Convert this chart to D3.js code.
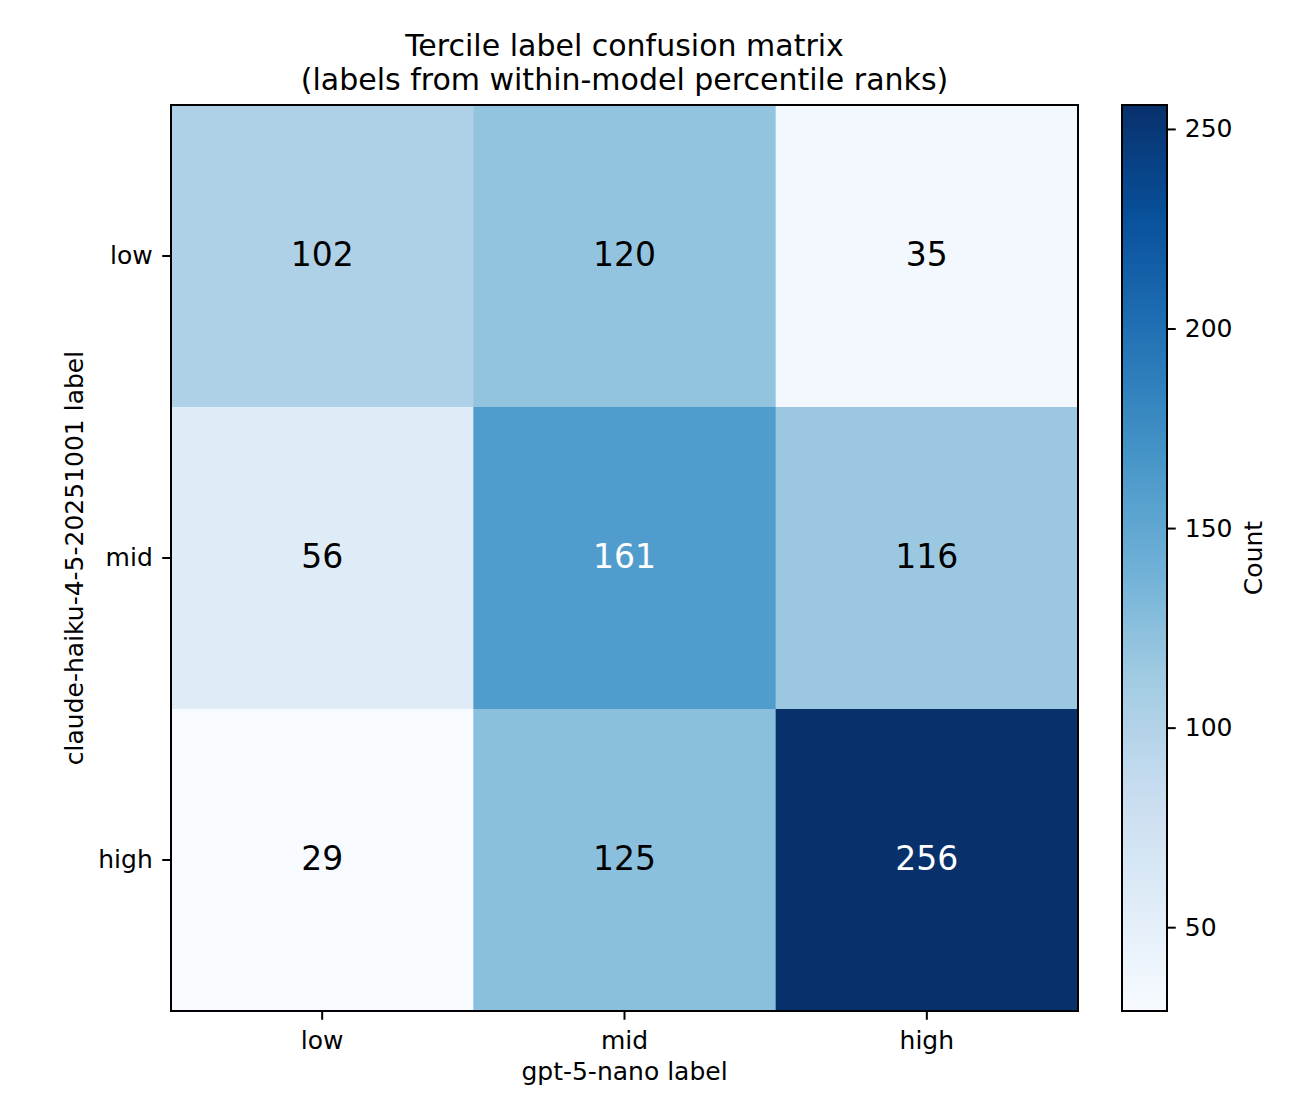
<!DOCTYPE html>
<html>
<head>
<meta charset="utf-8">
<script src="https://cdn.jsdelivr.net/npm/d3@7"></script>
<style>
  body { margin: 0; background: #fff; }
  svg text { font-family: "DejaVu Sans", sans-serif; }
</style>
</head>
<body>
<div id="chart"></div>
<script>
// data
var rowLabels = ["low", "mid", "high"];   // claude-haiku label (rows)
var colLabels = ["low", "mid", "high"];   // gpt-5-nano label (columns)
var countsLow = [102, 120, 35];
var countsMid = [56, 161, 116];
var countsHigh = [29, 125, 256];
var colorbarTicks = [50, 100, 150, 200, 250];

var counts = [countsLow, countsMid, countsHigh];

var svgWidth = 1296;
var svgHeight = 1116;

var plot = { left: 171, top: 105, width: 907, height: 906 };
var cbar = { left: 1122, width: 45 };

var svg = d3.select("#chart")
  .append("svg")
  .attr("width", svgWidth)
  .attr("height", svgHeight);

// flatten into cells
var cells = [];
counts.forEach(function(row, i) {
  row.forEach(function(v, j) {
    cells.push({ row: rowLabels[i], col: colLabels[j], value: v });
  });
});

var allValues = cells.map(d => d.value);
var vmin = d3.min(allValues);
var vmax = d3.max(allValues);

// matplotlib "Blues" (piecewise linear over ColorBrewer stops)
var bluesStops = ["#f7fbff", "#deebf7", "#c6dbef", "#9ecae1", "#6baed6",
                  "#4292c6", "#2171b5", "#08519c", "#08306b"];
var colorScale = d3.scaleLinear()
  .domain(bluesStops.map((c, i) => vmin + (vmax - vmin) * i / (bluesStops.length - 1)))
  .range(bluesStops)
  .interpolate(d3.interpolateRgb)
  .clamp(true);

var xScale = d3.scaleBand().domain(colLabels).range([0, plot.width]);
var yScale = d3.scaleBand().domain(rowLabels).range([0, plot.height]);

var chartGroup = svg.append("g")
  .attr("transform", `translate(${plot.left}, ${plot.top})`);

chartGroup.selectAll("rect.cell")
  .data(cells)
  .enter()
  .append("rect")
  .attr("class", "cell")
  .attr("x", d => xScale(d.col))
  .attr("y", d => yScale(d.row))
  .attr("width", xScale.bandwidth() + 0.5)
  .attr("height", yScale.bandwidth() + 0.5)
  .attr("fill", d => colorScale(d.value));

var thresh = (vmin + vmax) / 2;
chartGroup.selectAll("text.cellText")
  .data(cells)
  .enter()
  .append("text")
  .attr("class", "cellText")
  .attr("x", d => xScale(d.col) + xScale.bandwidth() / 2)
  .attr("y", d => yScale(d.row) + yScale.bandwidth() / 2)
  .attr("dy", "0.3em")
  .attr("text-anchor", "middle")
  .attr("font-size", "33px")
  .attr("fill", d => d.value > thresh ? "#ffffff" : "#000000")
  .text(d => d.value);

// frame
chartGroup.append("rect")
  .attr("width", plot.width)
  .attr("height", plot.height)
  .attr("fill", "none")
  .attr("stroke", "#000")
  .attr("stroke-width", 2);

// axes
var bottomAxis = d3.axisBottom(xScale).tickSize(8.75).tickPadding(11);
var leftAxis = d3.axisLeft(yScale).tickSize(8.75).tickPadding(9.5);

var xAxisG = chartGroup.append("g")
  .attr("transform", `translate(0, ${plot.height})`)
  .call(bottomAxis);
var yAxisG = chartGroup.append("g")
  .call(leftAxis);

[xAxisG, yAxisG].forEach(function(g) {
  g.select(".domain").remove();
  g.selectAll(".tick line").attr("stroke", "#000").attr("stroke-width", 2);
  g.selectAll(".tick text")
    .attr("fill", "#000")
    .attr("font-size", "25px")
    .attr("font-family", "DejaVu Sans, sans-serif");
});

// axis labels
svg.append("text")
  .attr("x", plot.left + plot.width / 2)
  .attr("y", 1080)
  .attr("text-anchor", "middle")
  .attr("font-size", "25px")
  .text("gpt-5-nano label");

svg.append("text")
  .attr("transform", `translate(83, ${plot.top + plot.height / 2}) rotate(-90)`)
  .attr("text-anchor", "middle")
  .attr("font-size", "25px")
  .text("claude-haiku-4-5-20251001 label");

// title
var title = svg.append("text")
  .attr("text-anchor", "middle")
  .attr("font-size", "30px");
title.append("tspan")
  .attr("x", plot.left + plot.width / 2)
  .attr("y", 56)
  .text("Tercile label confusion matrix");
title.append("tspan")
  .attr("x", plot.left + plot.width / 2)
  .attr("y", 90)
  .text("(labels from within-model percentile ranks)");

// colorbar
var cbScale = d3.scaleLinear()
  .domain([vmin, vmax])
  .range([plot.top + plot.height, plot.top]);

var defs = svg.append("defs");
var grad = defs.append("linearGradient")
  .attr("id", "cbGrad")
  .attr("x1", "0").attr("y1", "1")
  .attr("x2", "0").attr("y2", "0");
d3.range(0, 1.0001, 0.02).forEach(function(t) {
  grad.append("stop")
    .attr("offset", t)
    .attr("stop-color", colorScale(vmin + t * (vmax - vmin)));
});

svg.append("rect")
  .attr("x", cbar.left)
  .attr("y", plot.top)
  .attr("width", cbar.width)
  .attr("height", plot.height)
  .attr("fill", "url(#cbGrad)")
  .attr("stroke", "#000")
  .attr("stroke-width", 2);

var cbAxis = d3.axisRight(cbScale)
  .tickValues(colorbarTicks)
  .tickSize(8.75)
  .tickPadding(9);

var cbAxisG = svg.append("g")
  .attr("transform", `translate(${cbar.left + cbar.width}, 0)`)
  .call(cbAxis);
cbAxisG.select(".domain").remove();
cbAxisG.selectAll(".tick line").attr("stroke", "#000").attr("stroke-width", 2);
cbAxisG.selectAll(".tick text")
  .attr("fill", "#000")
  .attr("font-size", "25px")
  .attr("font-family", "DejaVu Sans, sans-serif");

svg.append("text")
  .attr("transform", `translate(1262, ${plot.top + plot.height / 2}) rotate(-90)`)
  .attr("text-anchor", "middle")
  .attr("font-size", "25px")
  .text("Count");
</script>
</body>
</html>
